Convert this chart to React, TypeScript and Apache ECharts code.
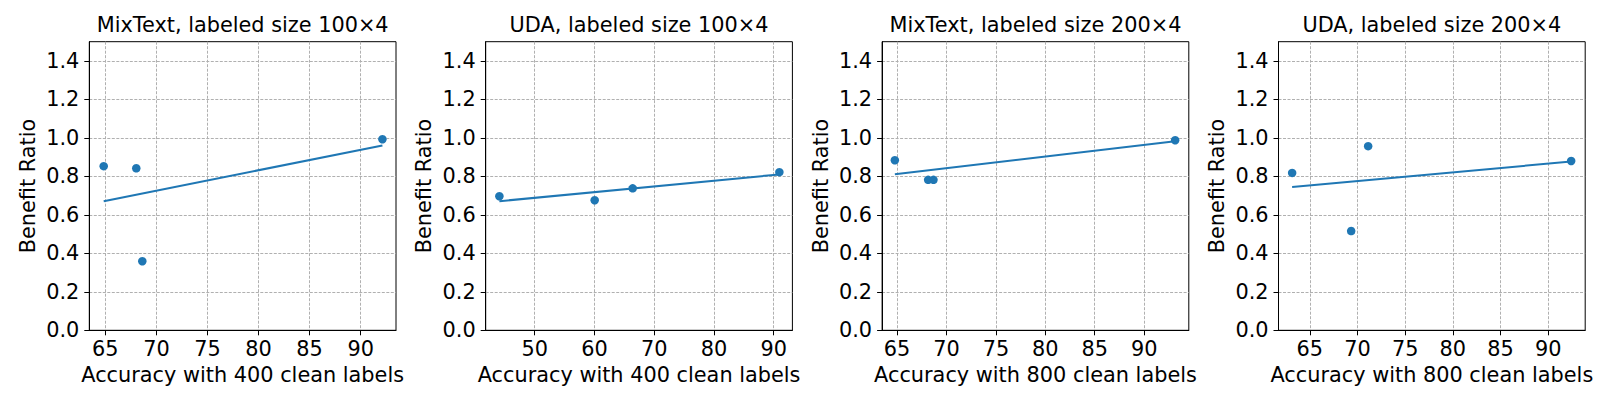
import React, { useEffect, useRef } from "react";
import * as echarts from "echarts";

const titles = [
  "MixText, labeled size 100×4",
  "UDA, labeled size 100×4",
  "MixText, labeled size 200×4",
  "UDA, labeled size 200×4",
];
const xNames = [
  "Accuracy with 400 clean labels",
  "Accuracy with 400 clean labels",
  "Accuracy with 800 clean labels",
  "Accuracy with 800 clean labels",
];
const xMins = [63.43, 41.8, 63.48, 61.72];
const xMaxs = [93.46, 93.13, 94.52, 93.88];
const xTicks = [
  [65, 70, 75, 80, 85, 90],
  [50, 60, 70, 80, 90],
  [65, 70, 75, 80, 85, 90],
  [65, 70, 75, 80, 85, 90],
];
const yTicks = [0, 0.2, 0.4, 0.6, 0.8, 1.0, 1.2, 1.4];

const accX = [
  [64.84, 68.03, 68.62, 92.13],
  [44.09, 60.04, 66.4, 90.95],
  [64.77, 68.14, 68.68, 93.14],
  [63.15, 69.34, 71.12, 92.41],
];
const ratioY = [
  [0.853, 0.842, 0.359, 0.993],
  [0.697, 0.676, 0.738, 0.822],
  [0.884, 0.782, 0.782, 0.988],
  [0.818, 0.516, 0.957, 0.88],
];
// fitted trend line values at min and max accuracy
const fitStart = [0.671, 0.671, 0.811, 0.745];
const fitEnd = [0.961, 0.81, 0.983, 0.877];

const BLUE = "#1f77b4";
const FONT = "DejaVu Sans";
const FS = 20.83;

export default function App() {
  const ref = useRef<HTMLDivElement>(null);
  useEffect(() => {
    if (!ref.current) return;
    const chart = echarts.init(ref.current, undefined, { renderer: "svg" });
    const gridLeft0 = 89.3;
    const pitch = 396.4;
    const gw = 306.7;
    const top = 41.7;
    const gh = 288.6;

    const grids: any[] = [];
    const xAxes: any[] = [];
    const yAxes: any[] = [];
    const series: any[] = [];
    const graphics: any[] = [];

    for (let i = 0; i < 4; i++) {
      const left = gridLeft0 + i * pitch;
      grids.push({
        left,
        top,
        width: gw,
        height: gh,
        show: true,
        borderColor: "#000",
        borderWidth: 1,
        backgroundColor: "transparent",
        containLabel: false,
      });
      xAxes.push({
        type: "value",
        gridIndex: i,
        min: xMins[i],
        max: xMaxs[i],
        name: xNames[i],
        nameLocation: "middle",
        nameGap: 32,
        nameTextStyle: { fontFamily: FONT, fontSize: FS, color: "#000" },
        axisLine: { show: true, onZero: false, lineStyle: { color: "#000", width: 1 } },
        axisTick: {
          show: true,
          inside: false,
          length: 5,
          customValues: xTicks[i],
          lineStyle: { color: "#000", width: 1 },
        },
        axisLabel: {
          show: true,
          customValues: xTicks[i],
          margin: 8,
          fontFamily: FONT,
          fontSize: FS,
          color: "#000",
          formatter: (v: number) => String(Math.round(v)),
        },
        splitLine: {
          show: true,
          lineStyle: { color: "#b0b0b0", width: 1, type: [3, 1.5] },
        },
      });
      yAxes.push({
        type: "value",
        gridIndex: i,
        min: 0,
        max: 1.5,
        name: "Benefit Ratio",
        nameLocation: "middle",
        nameGap: 51,
        nameTextStyle: { fontFamily: FONT, fontSize: FS, color: "#000" },
        axisLine: { show: true, onZero: false, lineStyle: { color: "#000", width: 1 } },
        axisTick: {
          show: true,
          inside: false,
          length: 5,
          customValues: yTicks,
          lineStyle: { color: "#000", width: 1 },
        },
        axisLabel: {
          show: true,
          customValues: yTicks,
          margin: 10,
          fontFamily: FONT,
          fontSize: FS,
          color: "#000",
          formatter: (v: number) => v.toFixed(1),
        },
        splitLine: {
          show: true,
          lineStyle: { color: "#b0b0b0", width: 1, type: [3, 1.5] },
        },
      });
      const xs = accX[i];
      const ys = ratioY[i];
      series.push({
        type: "scatter",
        xAxisIndex: i,
        yAxisIndex: i,
        symbol: "circle",
        symbolSize: 8.5,
        itemStyle: { color: BLUE, opacity: 1 },
        data: xs.map((x, k) => [x, ys[k]]),
        z: 3,
      });
      const xmin = Math.min(...xs);
      const xmax = Math.max(...xs);
      series.push({
        type: "line",
        xAxisIndex: i,
        yAxisIndex: i,
        showSymbol: false,
        symbol: "none",
        lineStyle: { color: BLUE, width: 2 },
        data: [
          [xmin, fitStart[i]],
          [xmax, fitEnd[i]],
        ],
        z: 4,
      });
      graphics.push({
        type: "text",
        x: left + gw / 2,
        y: 25,
        style: {
          text: titles[i],
          fontFamily: FONT,
          fontSize: FS,
          fill: "#000",
          textAlign: "center",
          textVerticalAlign: "middle",
        },
      });
    }

    chart.setOption({
      animation: false,
      backgroundColor: "#fff",
      grid: grids,
      xAxis: xAxes,
      yAxis: yAxes,
      series,
      graphic: graphics,
    });
    return () => chart.dispose();
  }, []);
  return (
    <div
      ref={ref}
      style={{ position: "absolute", left: 0, top: 0, width: 1601, height: 400 }}
    />
  );
}
